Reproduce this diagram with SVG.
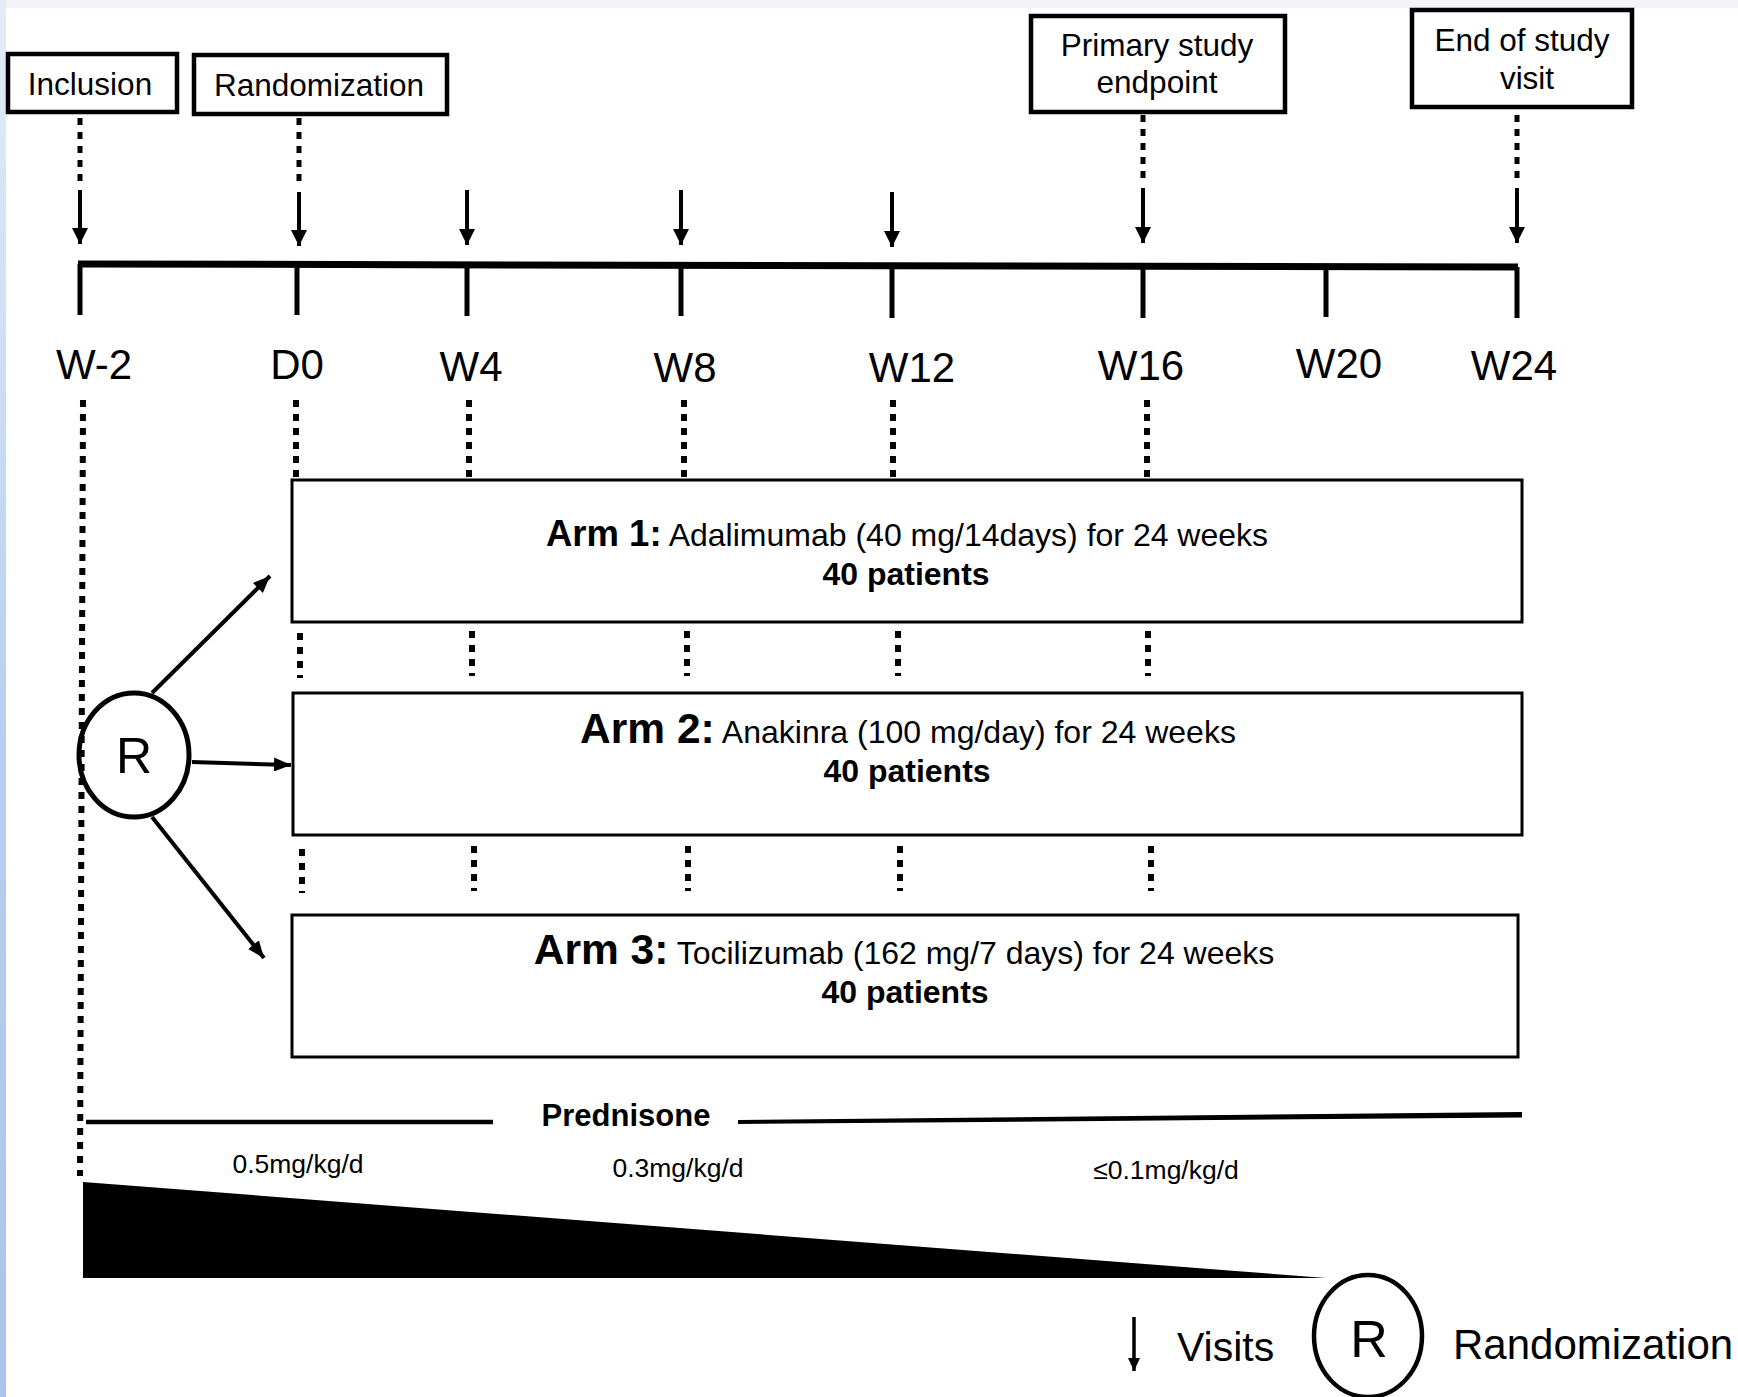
<svg xmlns="http://www.w3.org/2000/svg" width="1738" height="1397" viewBox="0 0 1738 1397">
<defs>
<linearGradient id="edge" x1="0" y1="0" x2="0" y2="1">
<stop offset="0" stop-color="#e4ecf7"/>
<stop offset="0.5" stop-color="#b9d0f0"/>
<stop offset="1" stop-color="#a9c4ee"/>
</linearGradient>
<marker id="ah" markerUnits="userSpaceOnUse" markerWidth="18" markerHeight="14" refX="17" refY="7" orient="auto">
<path d="M0,0 L17,7 L0,14 z" fill="#000"/>
</marker>
<marker id="ahd" markerUnits="userSpaceOnUse" markerWidth="17" markerHeight="16" refX="16" refY="8" orient="auto">
<path d="M0,0 L16,8 L0,16 z" fill="#000"/>
</marker>
<marker id="ahs" markerUnits="userSpaceOnUse" markerWidth="14" markerHeight="12" refX="13" refY="6" orient="auto">
<path d="M0,0 L13,6 L0,12 z" fill="#000"/>
</marker>
</defs>
<style>
text { font-family: "Liberation Sans", Arial, Helvetica, sans-serif; fill: #000; }
.box { fill: #fff; stroke: #000; stroke-width: 4.5; }
.arm { fill: #fff; stroke: #000; stroke-width: 3; }
.lbl { font-size: 31.5px; text-anchor: middle; }
.wk { font-size: 42px; text-anchor: middle; }
.dot { stroke: #000; stroke-width: 5; stroke-dasharray: 7 7; fill: none; }
.dot2 { stroke: #000; stroke-width: 6; stroke-dasharray: 7 7; fill: none; }
.arr { stroke: #000; stroke-width: 4; fill: none; }
.tick { stroke: #000; stroke-width: 5; }
.reg { font-size: 32px; font-weight: normal; }
.bold { font-weight: bold; }
.pat { font-size: 32px; font-weight: bold; text-anchor: middle; }
.dose { font-size: 26.5px; text-anchor: middle; }
</style>
<rect x="0" y="0" width="1738" height="1397" fill="#fff"/>
<rect x="0" y="0" width="1738" height="8" fill="#f1f3f6"/>
<rect x="0" y="0" width="6" height="1397" fill="url(#edge)"/>

<g id="inclusion">
<rect class="box" x="8" y="54" width="169" height="58"/>
<text class="lbl" x="90" y="95">Inclusion</text>
</g>
<g id="randomization">
<rect class="box" x="194" y="55" width="253" height="59"/>
<text class="lbl" x="319" y="96">Randomization</text>
</g>
<g id="primary-endpoint">
<rect class="box" x="1031" y="16" width="254" height="96"/>
<text class="lbl" x="1157" y="56">Primary study</text>
<text class="lbl" x="1157" y="93">endpoint</text>
</g>
<g id="end-of-study">
<rect class="box" x="1412" y="10" width="220" height="97"/>
<text class="lbl" x="1522" y="51">End of study</text>
<text class="lbl" x="1527" y="89">visit</text>
</g>

<g id="timeline">
<line x1="78" y1="264" x2="1518" y2="267" stroke="#000" stroke-width="7"/>
<line class="tick" x1="80" y1="264" x2="80" y2="315"/>
<line class="tick" x1="297" y1="264" x2="297" y2="315"/>
<line class="tick" x1="467" y1="265" x2="467" y2="316"/>
<line class="tick" x1="681" y1="265" x2="681" y2="316"/>
<line class="tick" x1="892" y1="266" x2="892" y2="318"/>
<line class="tick" x1="1143" y1="266" x2="1143" y2="318"/>
<line class="tick" x1="1326" y1="267" x2="1326" y2="317"/>
<line class="tick" x1="1517" y1="267" x2="1517" y2="318"/>
<text class="wk" x="94" y="379">W-2</text>
<text class="wk" x="297" y="379">D0</text>
<text class="wk" x="471" y="381">W4</text>
<text class="wk" x="685" y="382">W8</text>
<text class="wk" x="912" y="382">W12</text>
<text class="wk" x="1141" y="380">W16</text>
<text class="wk" x="1339" y="378">W20</text>
<text class="wk" x="1514" y="380">W24</text>
</g>

<g id="arm1">
<rect class="arm" x="292" y="480" width="1230" height="142"/>
<text x="907" y="546" text-anchor="middle"><tspan class="bold" font-size="36.5">Arm 1:</tspan><tspan class="reg"> Adalimumab (40 mg/14days) for 24 weeks</tspan></text>
<text class="pat" x="906" y="585">40 patients</text>
</g>
<g id="arm2">
<rect class="arm" x="293" y="693" width="1229" height="142"/>
<text x="908" y="743" text-anchor="middle"><tspan class="bold" font-size="42.5">Arm 2:</tspan><tspan class="reg"> Anakinra (100 mg/day) for 24 weeks</tspan></text>
<text class="pat" x="907" y="782">40 patients</text>
</g>
<g id="arm3">
<rect class="arm" x="292" y="915" width="1226" height="142"/>
<text x="904" y="964" text-anchor="middle"><tspan class="bold" font-size="42.5">Arm 3:</tspan><tspan class="reg"> Tocilizumab (162 mg/7 days) for 24 weeks</tspan></text>
<text class="pat" x="905" y="1003">40 patients</text>
</g>

<g id="r-node">
<ellipse cx="134" cy="755" rx="55" ry="62" fill="#fff" stroke="#000" stroke-width="5"/>
<text x="134" y="773" font-size="50" text-anchor="middle">R</text>
</g>

<g id="connectors">
<line class="dot" x1="80" y1="118" x2="80" y2="182"/>
<line class="arr" x1="80" y1="190" x2="80" y2="244" marker-end="url(#ahd)"/>
<line class="dot" x1="299" y1="118" x2="299" y2="182"/>
<line class="arr" x1="299" y1="192" x2="299" y2="246" marker-end="url(#ahd)"/>
<line class="arr" x1="467" y1="190" x2="467" y2="245" marker-end="url(#ahd)"/>
<line class="arr" x1="681" y1="190" x2="681" y2="245" marker-end="url(#ahd)"/>
<line class="arr" x1="892" y1="192" x2="892" y2="247" marker-end="url(#ahd)"/>
<line class="dot" x1="1143" y1="115" x2="1143" y2="178"/>
<line class="arr" x1="1143" y1="188" x2="1143" y2="243" marker-end="url(#ahd)"/>
<line class="dot" x1="1517" y1="115" x2="1517" y2="179"/>
<line class="arr" x1="1517" y1="188" x2="1517" y2="243" marker-end="url(#ahd)"/>

<line class="dot2" x1="83" y1="400" x2="80" y2="1176"/>
<line class="dot2" x1="296" y1="400" x2="296" y2="479"/>
<line class="dot2" x1="469" y1="400" x2="469" y2="479"/>
<line class="dot2" x1="684" y1="400" x2="684" y2="479"/>
<line class="dot2" x1="893" y1="400" x2="893" y2="479"/>
<line class="dot2" x1="1147" y1="400" x2="1147" y2="479"/>

<line class="dot2" x1="300" y1="633" x2="300" y2="678"/>
<line class="dot2" x1="472" y1="631" x2="472" y2="676"/>
<line class="dot2" x1="687" y1="631" x2="687" y2="676"/>
<line class="dot2" x1="898" y1="631" x2="898" y2="676"/>
<line class="dot2" x1="1148" y1="631" x2="1148" y2="676"/>

<line class="dot2" x1="302" y1="849" x2="302" y2="893"/>
<line class="dot2" x1="474" y1="846" x2="474" y2="891"/>
<line class="dot2" x1="688" y1="846" x2="688" y2="891"/>
<line class="dot2" x1="900" y1="846" x2="900" y2="891"/>
<line class="dot2" x1="1151" y1="846" x2="1151" y2="891"/>

<line class="arr" x1="152" y1="693" x2="270" y2="576" marker-end="url(#ah)"/>
<line class="arr" x1="192" y1="762" x2="291" y2="765" marker-end="url(#ah)"/>
<line class="arr" x1="152" y1="817" x2="264" y2="958" marker-end="url(#ah)"/>
</g>

<g id="prednisone">
<line x1="86" y1="1122" x2="493" y2="1122" stroke="#000" stroke-width="4.5"/>
<polygon points="738,1120 1522,1112 1522,1117.5 738,1124" fill="#000"/>
<text class="bold" x="626" y="1126" font-size="31" text-anchor="middle">Prednisone</text>
<text class="dose" x="298" y="1173">0.5mg/kg/d</text>
<text class="dose" x="678" y="1177">0.3mg/kg/d</text>
<text class="dose" x="1166" y="1179">≤0.1mg/kg/d</text>
<polygon points="83,1182 83,1278 1326,1278" fill="#000"/>
</g>

<g id="legend">
<line x1="1134" y1="1317" x2="1134" y2="1371" stroke="#000" stroke-width="3.5" marker-end="url(#ahs)"/>
<text x="1177" y="1361" font-size="41">Visits</text>
<ellipse cx="1368" cy="1336" rx="54" ry="61" fill="#fff" stroke="#000" stroke-width="4.5"/>
<text x="1369" y="1357" font-size="52" text-anchor="middle">R</text>
<text x="1453" y="1359" font-size="42">Randomization</text>
</g>
</svg>
